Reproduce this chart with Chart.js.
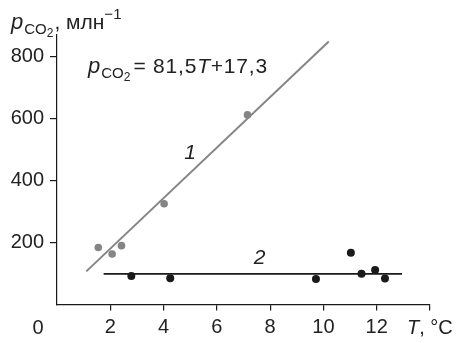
<!DOCTYPE html>
<html>
<head>
<meta charset="utf-8">
<script src="https://cdn.jsdelivr.net/npm/chart.js@4.4.1/dist/chart.umd.min.js"></script>
<style>
  html, body { margin: 0; padding: 0; background: #fff; }
  canvas { display: block; }
</style>
</head>
<body>
<canvas id="chart" width="456" height="343"></canvas>
<script>
const xTicks = [2, 4, 6, 8, 10, 12, 14];
const yTicks = [200, 400, 600, 800];

// series 1 (grey), series 2 (black)
const grayT = [1.55, 2.07, 2.42, 4.02, 7.15];
const grayP = [184, 163, 190, 325, 612];
const blackT = [2.79, 4.25, 9.72, 11.03, 11.43, 11.94, 12.31];
const blackP = [92, 85, 82, 167, 99, 111, 84];

// fitted lines
const line1T = [1.1, 10.2];
const line1P = [107, 849];
const line2T = [1.75, 12.95];
const line2P = [99, 99];

const GRAY = '#858585';
const BLACK = '#1a1a1a';
const TEXT = '#222';
const FONT = '"Liberation Sans", Arial, sans-serif';

function pts(xs, ys) {
  return xs.map((x, i) => ({ x: x, y: ys[i] }));
}

// draw text made of pieces with own font and vertical shift
function richText(ctx, x, y, parts) {
  let cx = x;
  parts.forEach((p) => {
    ctx.font = p.font;
    ctx.letterSpacing = p.ls || '0px';
    ctx.fillText(p.text, cx, y + (p.dy || 0));
    cx += ctx.measureText(p.text).width + (p.gap || 0);
  });
  ctx.letterSpacing = '0px';
}

const labelsPlugin = {
  id: 'labels',
  afterDraw(chart) {
    const ctx = chart.ctx;
    const xs = chart.scales.x;
    const ys = chart.scales.y;
    ctx.save();
    ctx.fillStyle = TEXT;
    ctx.textAlign = 'left';
    ctx.textBaseline = 'alphabetic';

    // axis title y
    richText(ctx, 11, 29, [
      { text: 'p', font: 'italic 22px ' + FONT, gap: 1 },
      { text: 'CO', font: '15px ' + FONT, dy: 5 },
      { text: '2', font: '12px ' + FONT, dy: 8, gap: 1 },
      { text: ', млн', font: '21px ' + FONT },
      { text: '−1', font: '15px ' + FONT, dy: -10 }
    ]);

    // equation
    richText(ctx, 88, 73, [
      { text: 'p', font: 'italic 22px ' + FONT, gap: 1 },
      { text: 'CO', font: '15px ' + FONT, dy: 5 },
      { text: '2', font: '12px ' + FONT, dy: 8, gap: 3 },
      { text: '= 81,5', font: '21px ' + FONT, ls: '0.8px' },
      { text: 'T', font: 'italic 21px ' + FONT, ls: '0.8px' },
      { text: '+17,3', font: '21px ' + FONT, ls: '0.8px' }
    ]);

    // line labels
    ctx.textAlign = 'center';
    ctx.textBaseline = 'middle';
    ctx.font = 'italic 21px ' + FONT;
    ctx.fillText('1', xs.getPixelForValue(5.0), ys.getPixelForValue(490));
    ctx.fillText('2', xs.getPixelForValue(7.6), ys.getPixelForValue(150));

    // origin and x title
    ctx.font = '20px ' + FONT;
    ctx.fillText('0', 38, 328);
    ctx.textAlign = 'left';
    richText(ctx, 407, 328, [
      { text: 'T', font: 'italic 20px ' + FONT },
      { text: ', °C', font: '20px ' + FONT }
    ]);
    ctx.restore();
  }
};

new Chart(document.getElementById('chart'), {
  type: 'scatter',
  data: {
    datasets: [
      {
        data: pts(line1T, line1P),
        showLine: true,
        borderColor: GRAY,
        borderWidth: 2,
        pointRadius: 0
      },
      {
        data: pts(line2T, line2P),
        showLine: true,
        borderColor: BLACK,
        borderWidth: 1.6,
        pointRadius: 0
      },
      {
        data: pts(grayT, grayP),
        backgroundColor: GRAY,
        borderWidth: 0,
        pointRadius: 3.8
      },
      {
        data: pts(blackT, blackP),
        backgroundColor: BLACK,
        borderWidth: 0,
        pointRadius: 4
      }
    ]
  },
  options: {
    responsive: false,
    animation: false,
    layout: { padding: { left: 0, right: 26, top: 35, bottom: 0 } },
    plugins: {
      legend: { display: false },
      tooltip: { enabled: false }
    },
    scales: {
      x: {
        type: 'linear',
        min: 0,
        max: 14,
        afterBuildTicks: (s) => { s.ticks = xTicks.map((v) => ({ value: v })); },
        afterFit: (s) => { s.height = 38.5; },
        ticks: {
          color: TEXT,
          font: { family: FONT, size: 20 },
          padding: 5,
          maxRotation: 0,
          callback: (v) => (v === 14 ? '' : v)
        },
        grid: { drawOnChartArea: false, drawTicks: true, tickLength: 6, color: BLACK, lineWidth: 1.2 },
        border: { display: true, color: BLACK, width: 1.2 }
      },
      y: {
        min: 0,
        max: 870,
        afterBuildTicks: (s) => { s.ticks = yTicks.map((v) => ({ value: v })); },
        afterFit: (s) => { s.width = 57; },
        ticks: {
          color: TEXT,
          font: { family: FONT, size: 20 },
          padding: 6
        },
        grid: { drawOnChartArea: false, drawTicks: true, tickLength: 7, color: BLACK, lineWidth: 1.2 },
        border: { display: true, color: BLACK, width: 1.2 }
      }
    }
  },
  plugins: [labelsPlugin]
});
</script>
</body>
</html>
